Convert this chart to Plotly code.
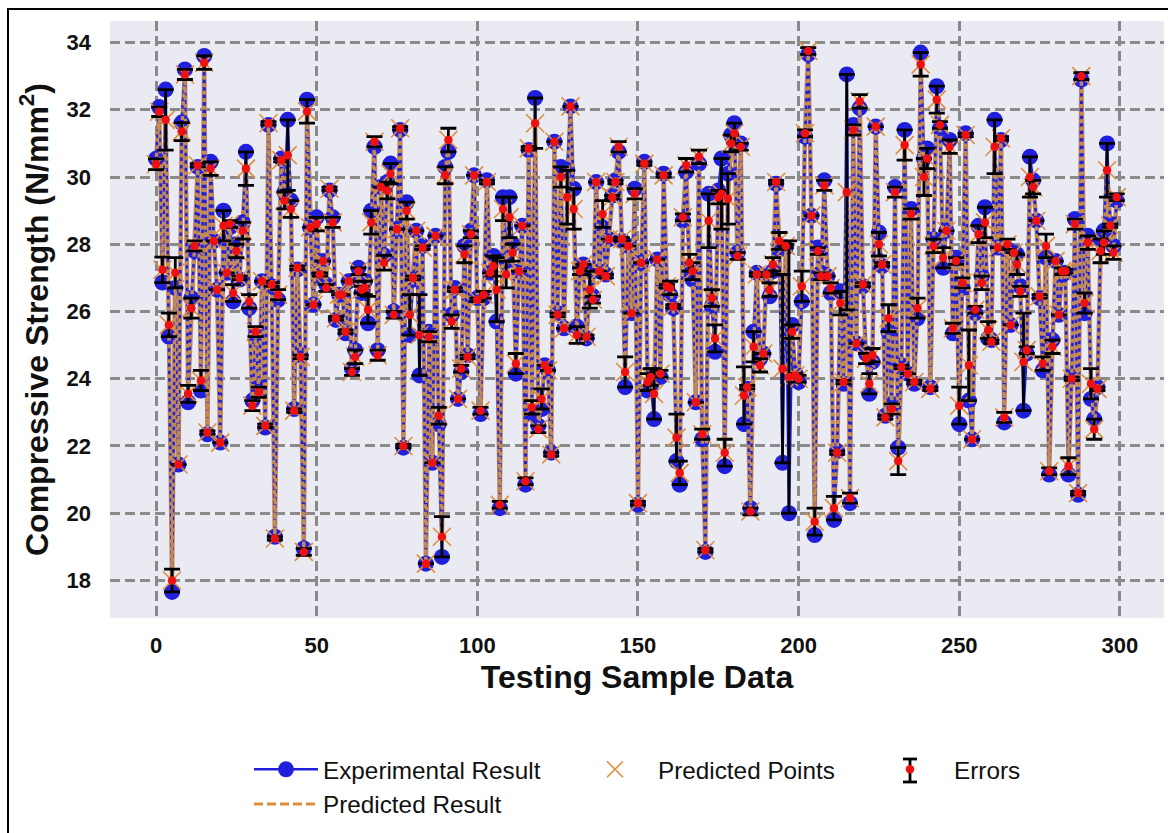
import plotly.graph_objects as go

experimental = [30.54,32.08,26.86,32.6,25.25,17.66,26.7,21.45,31.62,33.2,23.3,26.4,27.8,30.3,23.65,33.6,22.35,30.45,28.1,26.65,
22.1,29.0,27.15,28.5,26.3,28.0,26.95,28.65,30.75,26.1,23.35,25.25,23.75,26.9,22.55,31.55,26.75,19.3,26.35,30.55,
29.55,31.7,29.3,23.1,27.25,24.7,18.95,32.3,28.5,26.2,28.8,27.05,27.5,26.8,29.6,28.8,25.75,26.5,26.5,25.35,
26.9,24.3,24.85,27.3,26.55,26.9,25.65,29.0,30.9,24.85,29.7,27.67,29.85,30.4,26.0,28.45,31.4,21.95,29.25,25.3,
26.95,28.4,24.1,27.95,18.5,25.4,21.5,28.25,22.65,18.7,30.3,30.75,25.9,26.7,23.4,24.2,27.95,24.7,28.4,30.05,
26.4,22.95,26.4,29.9,27.15,27.65,25.7,20.15,29.4,27.5,29.4,28.0,24.15,27.2,28.55,20.85,30.8,22.95,32.35,22.6,
23.1,24.4,24.25,21.8,31.05,25.95,30.3,25.5,30.2,32.1,29.65,25.55,27.3,27.4,25.2,27.2,26.45,29.85,27.2,28.5,
27.1,28.15,29.45,29.9,30.75,28.1,23.75,27.95,25.95,29.65,20.25,27.45,30.45,23.65,23.8,22.8,27.55,24.05,30.1,26.7,
26.5,26.1,21.55,20.85,28.7,30.15,27.2,26.95,23.3,30.4,22.2,18.85,29.5,26.15,24.8,29.6,30.55,21.4,30.1,31.25,
31.6,27.75,31.0,22.65,23.7,20.15,25.4,27.15,24.6,24.75,27.05,26.45,27.2,29.8,27.85,21.5,27.9,20.0,25.6,24.15,
23.9,26.3,31.2,33.65,28.85,19.35,27.9,27.15,29.9,27.05,26.55,19.8,21.85,26.6,23.85,33.05,20.3,31.55,25.05,32.05,
26.75,24.75,23.55,24.5,31.5,28.35,27.35,22.9,25.4,23.25,29.7,21.95,24.4,31.4,24.15,29.05,23.85,25.8,33.7,30.55,
30.85,23.75,28.15,32.7,31.45,27.3,28.4,31.1,25.35,27.6,22.65,26.7,31.3,23.35,22.2,25.95,28.55,27.05,29.1,25.2,
25.15,31.7,27.9,31.1,22.7,27.85,25.6,27.75,27.7,26.75,23.05,24.75,30.6,29.9,28.7,26.4,24.25,27.6,21.15,25.15,
27.5,25.9,27.1,27.15,21.15,24.05,28.75,20.55,32.9,25.95,28.25,23.4,22.8,23.75,28.15,28.4,31.0,28.6,27.95,29.3]

predicted = [30.38,31.94,27.24,31.7,25.6,18.0,27.15,21.45,31.35,33.05,23.55,26.1,27.95,30.35,23.95,33.4,22.4,30.25,28.1,26.65,
22.1,28.55,27.15,28.6,26.55,27.8,27.0,28.4,30.25,26.3,23.2,25.4,23.6,26.9,22.6,31.6,26.8,19.25,26.5,30.5,
29.3,30.65,29.05,23.05,27.3,24.65,18.85,31.95,28.5,26.2,28.6,27.1,27.5,26.7,29.65,28.65,25.8,26.5,26.5,25.4,
26.9,24.2,24.65,27.2,26.65,26.7,26.05,28.65,31.05,24.7,29.7,27.45,29.6,30.1,25.9,28.45,31.45,22.0,29.0,25.9,
27.0,28.4,25.3,27.9,18.5,25.25,21.5,28.25,22.9,19.3,30.05,31.1,25.7,26.65,23.4,24.3,27.7,24.65,28.3,30.05,
26.35,23.05,26.5,29.85,27.15,27.35,26.65,20.25,29.05,27.1,28.8,27.75,24.45,27.2,28.55,20.95,30.85,23.15,31.6,22.5,
23.4,24.4,24.25,21.75,31.05,25.9,30.0,25.5,29.4,32.1,29.05,25.3,27.2,27.4,25.25,26.65,26.35,29.85,27.2,28.9,
27.05,28.15,29.4,29.85,30.9,28.15,24.2,27.95,25.95,29.5,20.3,27.45,30.4,23.9,24.05,23.55,27.55,24.15,30.05,26.75,
26.7,26.15,22.25,21.2,28.8,30.35,27.45,27.2,23.3,30.6,22.35,18.9,28.7,26.4,25.2,29.4,29.5,21.8,29.35,31.0,
31.3,27.65,30.9,23.5,23.75,20.05,24.95,27.1,24.4,24.75,27.1,26.65,27.4,29.85,28.1,24.3,27.95,24.05,25.4,24.1,
24.0,26.75,31.3,33.75,28.85,19.75,27.8,27.05,29.75,27.05,26.7,20.15,21.8,26.25,23.9,29.55,20.45,31.4,25.05,32.25,
26.8,24.6,23.85,24.7,31.5,28.0,27.4,22.85,25.8,23.1,29.55,21.55,24.35,30.95,24.15,28.9,23.9,26.1,33.35,30.0,
30.55,23.7,27.95,32.3,31.55,27.6,28.4,30.9,25.5,27.5,23.2,26.85,31.25,24.4,22.2,26.05,28.3,26.85,28.65,25.45,
25.1,30.9,27.9,31.15,22.85,28.0,25.6,27.75,27.4,26.6,24.5,24.85,30.0,29.7,28.7,26.45,24.45,27.95,21.25,24.95,
27.5,25.9,27.2,27.2,21.4,24.0,28.6,20.6,33.0,26.25,28.05,23.85,22.5,23.7,27.8,28.05,30.2,28.55,27.75,29.4]

sample_index = list(range(len(experimental)))
errors = [abs(a - b) for a, b in zip(experimental, predicted)]
x_ticks = [0, 50, 100, 150, 200, 250, 300]
y_ticks = [18, 20, 22, 24, 26, 28, 30, 32, 34]

BLUE = "#2020DC"
ORANGE = "#DD8E3E"
TAN = "#C28A58"
W, H = 1168, 833
L, R, T, B = 110, 1164, 21, 618
PW, PH = R - L, B - T
px = lambda v: (v - L) / PW
py = lambda v: (B - v) / PH

fig = go.Figure()
# tan body of the predicted line, under the blue one
fig.add_trace(go.Scatter(x=sample_index, y=predicted, mode="lines", showlegend=False, hoverinfo="skip",
                         line=dict(color=TAN, width=4.5)))
fig.add_trace(go.Scatter(x=sample_index, y=experimental, mode="lines+markers", name="Experimental Result",
                         line=dict(color=BLUE, width=2.6), marker=dict(color=BLUE, size=16), legend="legend"))
fig.add_trace(go.Scatter(x=sample_index, y=predicted, mode="lines", showlegend=False,
                         line=dict(color=TAN, width=3.4, dash="4px,3.5px")))
# legend entry for the predicted line
fig.add_trace(go.Scatter(x=[None], y=[None], mode="lines", name="Predicted Result",
                         line=dict(color=ORANGE, width=3, dash="9px,4px"), legend="legend"))
fig.add_trace(go.Scatter(x=sample_index, y=predicted, mode="markers", name="Predicted Points",
                         marker=dict(symbol="x-thin-open", color=ORANGE, size=18, line=dict(color=ORANGE, width=1.6)),
                         legend="legend2"))
fig.add_trace(go.Scatter(x=sample_index, y=predicted, mode="markers", name="Errors",
                         marker=dict(color="#EE1111", size=8.5),
                         error_y=dict(type="data", array=errors, visible=True, color="black", thickness=2.8, width=8),
                         legend="legend3"))

axis_font = dict(family="Liberation Sans", size=22, color="#111111", weight="bold")
title_font = dict(family="Liberation Sans", size=32, color="#111111", weight="bold")
grid = dict(showgrid=True, gridcolor="#8A8A8A", gridwidth=2.5, griddash="10px,5px", zeroline=False, showline=False, ticks="")

fig.update_xaxes(range=[(L - 156) / 3.213, (R - 156) / 3.213], tickvals=x_ticks, tickfont=axis_font, ticklabelstandoff=12,
                 title=dict(text="Testing Sample Data", font=title_font, standoff=8), **grid)
fig.update_yaxes(range=[18 - (B - 580.5) / 33.6, 34 + (42.5 - T) / 33.6], tickvals=y_ticks, tickfont=axis_font, ticklabelstandoff=18,
                 title=dict(text="Compressive Strength (N/mm<sup>2</sup>)", font=dict(title_font, size=32), standoff=8), **grid)

legend_font = dict(family="Liberation Sans", size=24.3, color="#111111")
common = dict(bgcolor="rgba(0,0,0,0)", borderwidth=0, font=legend_font, xanchor="left", yanchor="top",
              orientation="v", tracegroupgap=0, itemclick=False, itemdoubleclick=False)

fig.update_layout(
    width=W, height=H, margin=dict(l=L, r=W - R, t=T, b=H - B, pad=0),
    paper_bgcolor="white", plot_bgcolor="#EAEAF2", showlegend=True,
    legend=dict(x=px(249), y=py(747), itemwidth=64, **common),
    legend2=dict(x=px(572), y=py(747), itemwidth=76, **common),
    legend3=dict(x=px(866), y=py(747), itemwidth=78, **common),
    shapes=[
        dict(type="rect", xref="paper", yref="paper", x0=px(8), x1=px(W + 5), y0=py(H + 5), y1=py(9),
             line=dict(color="black", width=2), layer="below"),
        dict(type="line", xref="paper", yref="paper", x0=px(910), x1=px(910), y0=py(759), y1=py(782),
             line=dict(color="black", width=2.8), layer="below"),
        dict(type="line", xref="paper", yref="paper", x0=px(903), x1=px(917), y0=py(759), y1=py(759),
             line=dict(color="black", width=2.8), layer="below"),
        dict(type="line", xref="paper", yref="paper", x0=px(903), x1=px(917), y0=py(782), y1=py(782),
             line=dict(color="black", width=2.8), layer="below"),
    ],
)

fig.write_html("out.html", config=dict(displayModeBar=False), post_script="document.body.style.margin='0';")
